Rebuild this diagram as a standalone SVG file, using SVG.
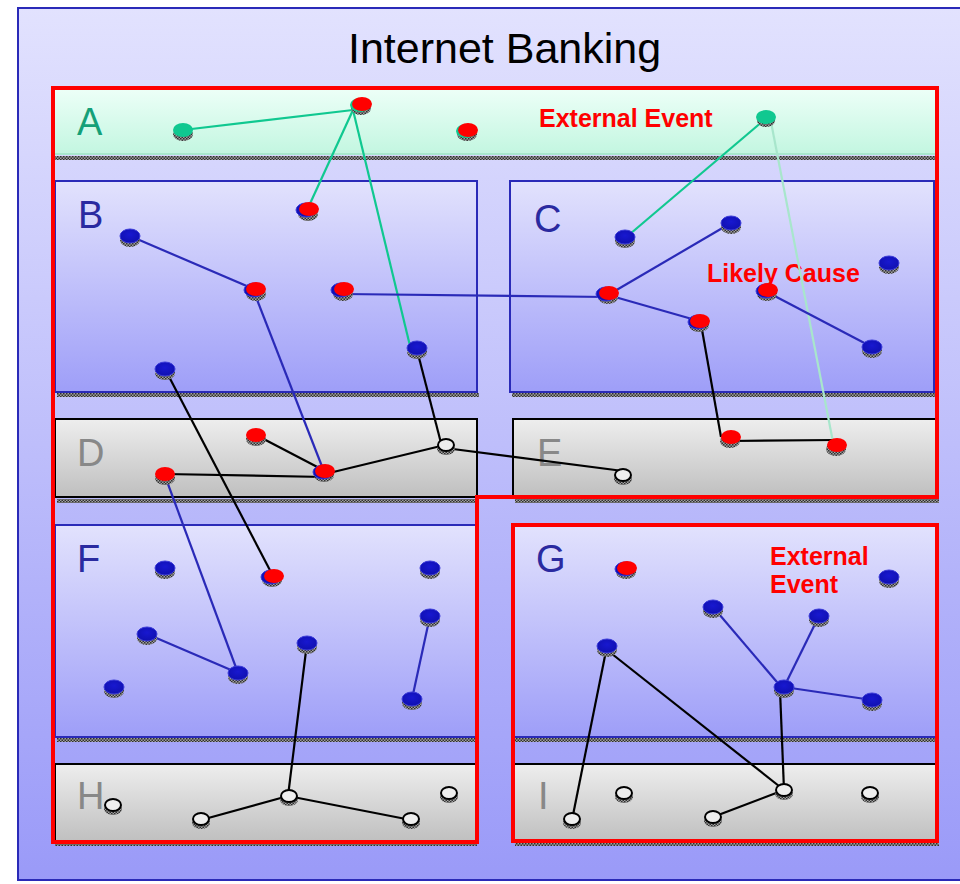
<svg xmlns="http://www.w3.org/2000/svg" width="960" height="884" viewBox="0 0 960 884">
<defs>
<linearGradient id="bg" x1="0" y1="0" x2="0" y2="1"><stop offset="0" stop-color="#e2e2fe"/><stop offset="1" stop-color="#9a9af8"/></linearGradient>
<linearGradient id="gA" x1="0" y1="0" x2="0" y2="1"><stop offset="0" stop-color="#ecfff7"/><stop offset="1" stop-color="#c2f6e0"/></linearGradient>
<linearGradient id="gBlue" x1="0" y1="0" x2="0" y2="1"><stop offset="0" stop-color="#e2e2fd"/><stop offset="1" stop-color="#9e9ef8"/></linearGradient>
<linearGradient id="gGray" x1="0" y1="0" x2="0" y2="1"><stop offset="0" stop-color="#eeeeee"/><stop offset="1" stop-color="#bfbfbf"/></linearGradient>
<radialGradient id="gNode" cx="0.5" cy="0.4" r="0.6"><stop offset="0" stop-color="#1818d0"/><stop offset="1" stop-color="#1010b0"/></radialGradient>
<pattern id="hatch" width="3" height="3" patternUnits="userSpaceOnUse"><rect width="3" height="3" fill="#a0a0a0"/><rect width="1.5" height="1.5" fill="#303030"/><rect x="1.5" y="1.5" width="1.5" height="1.5" fill="#303030"/></pattern>
</defs>
<style>
.sh{fill:url(#hatch)}
.blue{fill:url(#gNode);stroke:#3a3ad8;stroke-width:1}
.red{fill:#ff0000}
.grn{fill:#10c890}
.wht{fill:#eeeeee;stroke:#000;stroke-width:2}
.bbox{fill:url(#gBlue);stroke:#2a2ab8;stroke-width:2}
.gbox{fill:url(#gGray);stroke:#000;stroke-width:2}
.lbl{font-family:"Liberation Sans",Arial,sans-serif;font-size:38px}
.lb{fill:#2a2aa0}
.lg{fill:#888888}
.note{font-family:"Liberation Sans",Arial,sans-serif;font-size:25px;font-weight:bold;fill:#ff0000}
.cg{stroke:#10c890;stroke-width:2.2;fill:none}
.cl{stroke:#a8e6cc;stroke-width:2.2;fill:none}
.cb{stroke:#2a2ab8;stroke-width:2.2;fill:none}
.ck{stroke:#000;stroke-width:2.2;fill:none}
</style>
<rect x="18" y="8" width="950" height="872" fill="url(#bg)" stroke="#2a2ab8" stroke-width="2"/>
<text x="348" y="63" font-family="'Liberation Sans',Arial,sans-serif" font-size="43" fill="#000">Internet Banking</text>

<g id="layers">
<g id="layerA"><rect x="55" y="90" width="880" height="65" fill="url(#gA)"/><line x1="55" y1="154" x2="935" y2="154" stroke="#a8e8cc" stroke-width="2"/><rect x="55" y="156" width="880" height="4" class="sh"/><text class="lbl" x="77" y="135" fill="#14a078">A</text></g>
<g id="layerB"><rect x="57" y="393" width="422" height="4" class="sh"/><rect class="bbox" x="55" y="181" width="422" height="211"/><text class="lbl lb" x="78" y="228">B</text></g>
<g id="layerC"><rect x="512" y="393" width="424" height="4" class="sh"/><rect class="bbox" x="510" y="181" width="424" height="211"/><text class="lbl lb" x="534" y="232">C</text></g>
<g id="layerD"><rect x="57" y="499" width="422" height="4" class="sh"/><rect class="gbox" x="55" y="419" width="422" height="78"/><text class="lbl lg" x="77" y="466">D</text></g>
<g id="layerE"><rect x="515" y="499" width="424" height="4" class="sh"/><rect class="gbox" x="513" y="419" width="424" height="78"/><text class="lbl lg" x="537" y="466">E</text></g>
<g id="layerF"><rect x="57" y="738" width="420" height="4" class="sh"/><rect class="bbox" x="55" y="525" width="422" height="212"/><text class="lbl lb" x="77" y="572">F</text></g>
<g id="layerG"><rect x="515" y="738" width="420" height="4" class="sh"/><rect class="bbox" x="513" y="525" width="424" height="212"/><text class="lbl lb" x="536" y="572">G</text></g>
<g id="layerH"><rect x="55" y="842" width="422" height="4" class="sh"/><rect class="gbox" x="55" y="764" width="422" height="78"/><text class="lbl lg" x="77" y="809">H</text></g>
<g id="layerI"><rect x="515" y="842" width="424" height="4" class="sh"/><rect class="gbox" x="513" y="764" width="424" height="78"/><text class="lbl lg" x="538" y="809">I</text></g>
</g>

<g id="frames" fill="none" stroke="#ff0000" stroke-width="4">
<path d="M53 88 H937 V497 H477 V842 H53 Z"/>
<rect x="513" y="525" width="424" height="316"/>
</g>

<g id="notes">
<text class="note" x="539" y="127">External Event</text>
<text class="note" x="707" y="282">Likely Cause</text>
<text class="note" x="770" y="565">External</text>
<text class="note" x="770" y="593">Event</text>
</g>

<g id="connectors">
<line class="cg" x1="183" y1="130" x2="353" y2="110"/>
<line class="cg" x1="353" y1="110" x2="308" y2="208"/>
<line class="cg" x1="353" y1="110" x2="411" y2="350"/>
<line class="cg" x1="763" y1="121" x2="630" y2="234"/>
<line class="cl" x1="771" y1="122" x2="833" y2="442"/>
<line class="cb" x1="130" y1="236" x2="256" y2="290"/>
<line class="cb" x1="254" y1="292" x2="323" y2="469"/>
<line class="cb" x1="343" y1="294" x2="608" y2="297"/>
<line class="cb" x1="608" y1="295" x2="731" y2="223"/>
<line class="cb" x1="608" y1="295" x2="699" y2="321"/>
<line class="cb" x1="767" y1="292" x2="872" y2="347"/>
<line class="cb" x1="165" y1="476" x2="238" y2="673"/>
<line class="cb" x1="147" y1="634" x2="238" y2="673"/>
<line class="cb" x1="430" y1="616" x2="412" y2="699"/>
<line class="cb" x1="713" y1="607" x2="782" y2="688"/>
<line class="cb" x1="819" y1="616" x2="784" y2="687"/>
<line class="cb" x1="784" y1="687" x2="872" y2="700"/>
<line class="ck" x1="165" y1="369" x2="273" y2="576"/>
<line class="ck" x1="417" y1="350" x2="441" y2="443"/>
<line class="ck" x1="256" y1="435" x2="325" y2="471"/>
<line class="ck" x1="165" y1="474" x2="325" y2="477"/>
<line class="ck" x1="325" y1="474" x2="445" y2="445"/>
<line class="ck" x1="445" y1="448" x2="623" y2="471"/>
<line class="ck" x1="701" y1="324" x2="721" y2="437"/>
<line class="ck" x1="730" y1="441" x2="836" y2="440"/>
<line class="ck" x1="307" y1="643" x2="288" y2="796"/>
<line class="ck" x1="201" y1="820" x2="288" y2="796"/>
<line class="ck" x1="288" y1="796" x2="411" y2="820"/>
<line class="ck" x1="607" y1="646" x2="572" y2="820"/>
<line class="ck" x1="607" y1="650" x2="784" y2="790"/>
<line class="ck" x1="780" y1="690" x2="784" y2="790"/>
<line class="ck" x1="713" y1="817" x2="784" y2="790"/>
</g>

<g id="nodes">
<g id="a1"><ellipse class="sh" cx="183" cy="134" rx="10" ry="7"/><ellipse class="grn" cx="183" cy="130" rx="10" ry="7"/></g>
<g id="a2"><ellipse class="sh" cx="361" cy="108" rx="10" ry="7"/><ellipse class="grn" cx="360" cy="105" rx="10" ry="7"/><ellipse class="red" cx="362" cy="104" rx="10" ry="7"/></g>
<g id="a3"><ellipse class="sh" cx="467" cy="134" rx="10" ry="7"/><ellipse class="grn" cx="466" cy="131" rx="10" ry="7"/><ellipse class="red" cx="468" cy="130" rx="10" ry="7"/></g>
<g id="a4"><ellipse class="sh" cx="766" cy="121" rx="9" ry="6"/><ellipse class="grn" cx="766" cy="117" rx="10" ry="7"/></g>

<g id="b1"><ellipse class="sh" cx="130" cy="240" rx="10" ry="7"/><ellipse class="blue" cx="130" cy="236" rx="10" ry="7"/></g>
<g id="b2"><ellipse class="sh" cx="256" cy="294" rx="10" ry="7"/><ellipse class="blue" cx="254" cy="290" rx="10" ry="7"/><ellipse class="red" cx="256" cy="289" rx="10" ry="7"/></g>
<g id="b3"><ellipse class="sh" cx="343" cy="294" rx="10" ry="7"/><ellipse class="blue" cx="341" cy="290" rx="10" ry="7"/><ellipse class="red" cx="344" cy="289" rx="10" ry="7"/></g>
<g id="b4"><ellipse class="sh" cx="308" cy="214" rx="10" ry="7"/><ellipse class="blue" cx="306" cy="210" rx="10" ry="7"/><ellipse class="red" cx="309" cy="209" rx="10" ry="7"/></g>
<g id="b5"><ellipse class="sh" cx="165" cy="373" rx="10" ry="7"/><ellipse class="blue" cx="165" cy="369" rx="10" ry="7"/></g>
<g id="b6"><ellipse class="sh" cx="417" cy="352" rx="10" ry="7"/><ellipse class="blue" cx="417" cy="348" rx="10" ry="7"/></g>

<g id="c1"><ellipse class="sh" cx="625" cy="241" rx="10" ry="7"/><ellipse class="blue" cx="625" cy="237" rx="10" ry="7"/></g>
<g id="c2"><ellipse class="sh" cx="731" cy="227" rx="10" ry="7"/><ellipse class="blue" cx="731" cy="223" rx="10" ry="7"/></g>
<g id="c3"><ellipse class="sh" cx="608" cy="297" rx="10" ry="7"/><ellipse class="blue" cx="606" cy="294" rx="10" ry="7"/><ellipse class="red" cx="609" cy="293" rx="10" ry="7"/></g>
<g id="c4"><ellipse class="sh" cx="699" cy="325" rx="10" ry="7"/><ellipse class="blue" cx="698" cy="322" rx="10" ry="7"/><ellipse class="red" cx="700" cy="321" rx="10" ry="7"/></g>
<g id="c5"><ellipse class="sh" cx="767" cy="294" rx="10" ry="7"/><ellipse class="blue" cx="766" cy="291" rx="10" ry="7"/><ellipse class="red" cx="768" cy="290" rx="10" ry="7"/></g>
<g id="c6"><ellipse class="sh" cx="889" cy="267" rx="10" ry="7"/><ellipse class="blue" cx="889" cy="263" rx="10" ry="7"/></g>
<g id="c7"><ellipse class="sh" cx="872" cy="351" rx="10" ry="7"/><ellipse class="blue" cx="872" cy="347" rx="10" ry="7"/></g>

<g id="d1"><ellipse class="sh" cx="256" cy="439" rx="10" ry="7"/><ellipse class="red" cx="256" cy="435" rx="10" ry="7"/></g>
<g id="d2"><ellipse class="sh" cx="324" cy="475" rx="10" ry="7"/><ellipse class="blue" cx="323" cy="472" rx="10" ry="7"/><ellipse class="red" cx="325" cy="471" rx="10" ry="7"/></g>
<g id="d3"><ellipse class="sh" cx="165" cy="478" rx="10" ry="7"/><ellipse class="red" cx="165" cy="474" rx="10" ry="7"/></g>
<g id="d4"><ellipse class="sh" cx="446" cy="449" rx="9" ry="6"/><ellipse class="wht" cx="446" cy="445" rx="8" ry="6"/></g>

<g id="e1"><ellipse class="sh" cx="623" cy="479" rx="9" ry="6"/><ellipse class="wht" cx="623" cy="475" rx="8" ry="6"/></g>
<g id="e2"><ellipse class="sh" cx="730" cy="441" rx="10" ry="7"/><ellipse class="red" cx="731" cy="437" rx="10" ry="7"/></g>
<g id="e3"><ellipse class="sh" cx="836" cy="449" rx="10" ry="7"/><ellipse class="red" cx="837" cy="445" rx="10" ry="7"/></g>

<g id="f1"><ellipse class="sh" cx="165" cy="572" rx="10" ry="7"/><ellipse class="blue" cx="165" cy="568" rx="10" ry="7"/></g>
<g id="f2"><ellipse class="sh" cx="272" cy="580" rx="10" ry="7"/><ellipse class="blue" cx="271" cy="577" rx="10" ry="7"/><ellipse class="red" cx="274" cy="576" rx="10" ry="7"/></g>
<g id="f3"><ellipse class="sh" cx="430" cy="572" rx="10" ry="7"/><ellipse class="blue" cx="430" cy="568" rx="10" ry="7"/></g>
<g id="f4"><ellipse class="sh" cx="147" cy="638" rx="10" ry="7"/><ellipse class="blue" cx="147" cy="634" rx="10" ry="7"/></g>
<g id="f5"><ellipse class="sh" cx="238" cy="677" rx="10" ry="7"/><ellipse class="blue" cx="238" cy="673" rx="10" ry="7"/></g>
<g id="f6"><ellipse class="sh" cx="307" cy="647" rx="10" ry="7"/><ellipse class="blue" cx="307" cy="643" rx="10" ry="7"/></g>
<g id="f7"><ellipse class="sh" cx="430" cy="620" rx="10" ry="7"/><ellipse class="blue" cx="430" cy="616" rx="10" ry="7"/></g>
<g id="f8"><ellipse class="sh" cx="114" cy="691" rx="10" ry="7"/><ellipse class="blue" cx="114" cy="687" rx="10" ry="7"/></g>
<g id="f9"><ellipse class="sh" cx="412" cy="703" rx="10" ry="7"/><ellipse class="blue" cx="412" cy="699" rx="10" ry="7"/></g>

<g id="g1"><ellipse class="sh" cx="626" cy="572" rx="10" ry="7"/><ellipse class="blue" cx="625" cy="569" rx="10" ry="7"/><ellipse class="red" cx="627" cy="568" rx="10" ry="7"/></g>
<g id="g2"><ellipse class="sh" cx="889" cy="581" rx="10" ry="7"/><ellipse class="blue" cx="889" cy="577" rx="10" ry="7"/></g>
<g id="g3"><ellipse class="sh" cx="713" cy="611" rx="10" ry="7"/><ellipse class="blue" cx="713" cy="607" rx="10" ry="7"/></g>
<g id="g4"><ellipse class="sh" cx="819" cy="620" rx="10" ry="7"/><ellipse class="blue" cx="819" cy="616" rx="10" ry="7"/></g>
<g id="g5"><ellipse class="sh" cx="607" cy="650" rx="10" ry="7"/><ellipse class="blue" cx="607" cy="646" rx="10" ry="7"/></g>
<g id="g6"><ellipse class="sh" cx="784" cy="691" rx="10" ry="7"/><ellipse class="blue" cx="784" cy="687" rx="10" ry="7"/></g>
<g id="g7"><ellipse class="sh" cx="872" cy="704" rx="10" ry="7"/><ellipse class="blue" cx="872" cy="700" rx="10" ry="7"/></g>

<g id="h1"><ellipse class="sh" cx="113" cy="809" rx="9" ry="6"/><ellipse class="wht" cx="113" cy="805" rx="8" ry="6"/></g>
<g id="h2"><ellipse class="sh" cx="201" cy="823" rx="9" ry="6"/><ellipse class="wht" cx="201" cy="819" rx="8" ry="6"/></g>
<g id="h3"><ellipse class="sh" cx="289" cy="800" rx="9" ry="6"/><ellipse class="wht" cx="289" cy="796" rx="8" ry="6"/></g>
<g id="h4"><ellipse class="sh" cx="411" cy="823" rx="9" ry="6"/><ellipse class="wht" cx="411" cy="819" rx="8" ry="6"/></g>
<g id="h5"><ellipse class="sh" cx="449" cy="797" rx="9" ry="6"/><ellipse class="wht" cx="449" cy="793" rx="8" ry="6"/></g>

<g id="i1"><ellipse class="sh" cx="572" cy="823" rx="9" ry="6"/><ellipse class="wht" cx="572" cy="819" rx="8" ry="6"/></g>
<g id="i2"><ellipse class="sh" cx="624" cy="797" rx="9" ry="6"/><ellipse class="wht" cx="624" cy="793" rx="8" ry="6"/></g>
<g id="i3"><ellipse class="sh" cx="713" cy="821" rx="9" ry="6"/><ellipse class="wht" cx="713" cy="817" rx="8" ry="6"/></g>
<g id="i4"><ellipse class="sh" cx="784" cy="794" rx="9" ry="6"/><ellipse class="wht" cx="784" cy="790" rx="8" ry="6"/></g>
<g id="i5"><ellipse class="sh" cx="870" cy="797" rx="9" ry="6"/><ellipse class="wht" cx="870" cy="793" rx="8" ry="6"/></g>
</g>
</svg>
